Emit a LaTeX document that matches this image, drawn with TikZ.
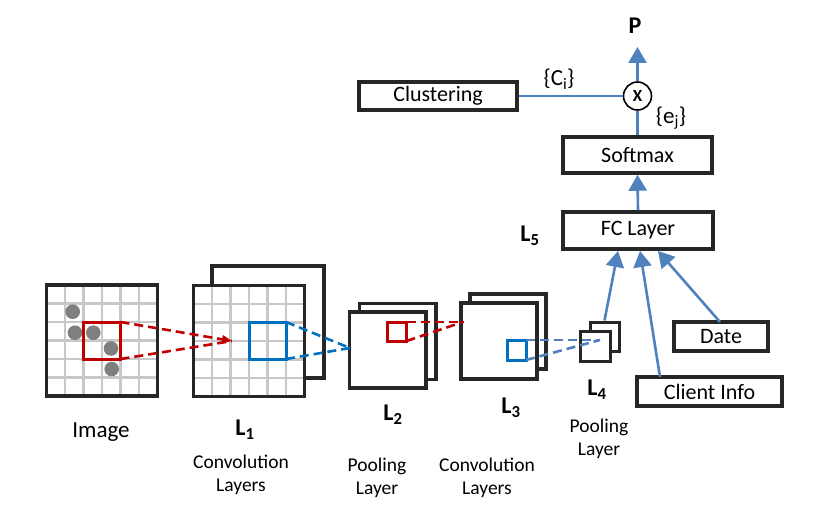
\documentclass[tikz,border=0pt]{standalone}
\usepackage{fontspec}
\setmainfont{Carlito}
\usetikzlibrary{arrows.meta}
\definecolor{cred}{HTML}{C00000}
\definecolor{cblue}{HTML}{0070C0}
\definecolor{conn}{HTML}{4F81BD}
\definecolor{dotgray}{HTML}{7F7F7F}
\definecolor{gridgray}{HTML}{C8C8C8}
\tikzset{
  blockbox/.style={draw=black!85,line width=3.5pt,fill=white,inner sep=0pt,font=\fontsize{22}{26}\selectfont},
  layersq/.style={draw=black!85,line width=3.5pt,fill=white,inner sep=0pt},
  thinsq/.style={draw=black!85,line width=3pt,fill=white,inner sep=0pt},
  gridline/.style={gridgray,line width=2.6pt},
  redsq/.style={draw=cred,line width=3pt,inner sep=0pt,outer sep=0pt},
  bluesq/.style={draw=cblue,line width=3pt,inner sep=0pt,outer sep=0pt},
  reddash/.style={cred,line width=2.6pt,dash pattern=on 9pt off 5pt},
  bluedash/.style={cblue,line width=2.6pt,dash pattern=on 9pt off 5pt},
  conndash/.style={conn,line width=2.6pt,dash pattern=on 9pt off 5pt},
  connline/.style={conn,line width=2.6pt},
  connarrow/.style={conn,line width=2.6pt,-{Triangle[width=18pt,length=16pt]}},
  lbl/.style={font=\fontsize{19.5}{23}\selectfont,align=center,inner sep=0pt},
  biglbl/.style={font=\fontsize{23}{26}\selectfont,inner sep=0pt},
  llbl/.style={font=\fontsize{24}{26}\selectfont\bfseries,inner sep=0pt},
}
\begin{document}
\begin{tikzpicture}[x=1pt,y=-1pt]
\useasboundingbox (0,0) rectangle (831,508);

% ---------- Image ----------
\node[layersq,minimum width=111pt,minimum height=111pt] (img) at (102,340.5) {};
\foreach \k in {1,...,5}{
  \draw[gridline] (46.5+18.5*\k,286.8) -- (46.5+18.5*\k,394.2);
  \draw[gridline] (48.3,285+18.5*\k) -- (155.7,285+18.5*\k);
}
\fill[dotgray] (72.7,311.7) circle (7.3);
\fill[dotgray] (75,332.7) circle (7.3);
\fill[dotgray] (93.3,332.7) circle (7.3);
\fill[dotgray] (111,348.5) circle (7.3);
\fill[dotgray] (111.7,369) circle (7.3);
\node[redsq,minimum width=37pt,minimum height=37pt] (rsq) at (102,340.5) {};

% ---------- L1 ----------
\node[layersq,minimum width=112pt,minimum height=112pt] (l1b) at (268,322) {};
\node[layersq,minimum width=111pt,minimum height=111pt] (l1f) at (249,341) {};
\foreach \k in {1,...,5}{
  \draw[gridline] (193.5+18.5*\k,287.3) -- (193.5+18.5*\k,394.7);
  \draw[gridline] (195.3,285.5+18.5*\k) -- (302.7,285.5+18.5*\k);
}
\node[bluesq,minimum width=37pt,minimum height=37pt] (bsq1) at (267.5,340.5) {};

\coordinate (rtip) at (232,341);
\draw[reddash,-{Triangle[width=8pt,length=10pt]}] (rsq.north east) -- (rtip);
\draw[reddash] (rsq.south east) -- (rtip);

% ---------- L2 ----------
\node[layersq,minimum width=76.5pt,minimum height=76pt] (l2b) at (397.75,341.5) {};
\node[layersq,minimum width=76.5pt,minimum height=76pt] (l2f) at (387.75,350) {};
\node[redsq,minimum width=19pt,minimum height=19pt] (rsq2) at (397,331.5) {};

\coordinate (btip1) at (350,348);
\draw[bluedash] (bsq1.north east) -- (btip1);
\draw[bluedash] (bsq1.south east) -- (btip1);

% ---------- L3 ----------
\node[layersq,minimum width=76pt,minimum height=75pt] (l3b) at (508,331.5) {};
\node[layersq,minimum width=76pt,minimum height=76pt] (l3f) at (499,341) {};
\node[bluesq,minimum width=19pt,minimum height=20pt] (bsq3) at (516.5,350) {};

\coordinate (rtip2) at (463,322);
\draw[reddash] (rsq2.north east) -- (rtip2);
\draw[reddash] (rsq2.south east) -- (rtip2);

% ---------- L4 ----------
\node[thinsq,minimum width=29pt,minimum height=29pt] (l4b) at (604.5,336.5) {};
\node[thinsq,minimum width=30pt,minimum height=30pt] (l4f) at (595,346) {};

\coordinate (btip2) at (600,340);
\draw[conndash] (bsq3.north east) -- (btip2);
\draw[conndash] (bsq3.south east) -- (btip2);

% ---------- right part ----------
\node[blockbox,minimum width=150pt,minimum height=37pt] (fc) at (638,230.5) {FC Layer};
\node[blockbox,minimum width=149pt,minimum height=36pt] (sm) at (637.5,155) {Softmax};
\node[blockbox,minimum width=158pt,minimum height=28pt] (clu) at (438,96) {Clustering};
\node[blockbox,minimum width=94pt,minimum height=29pt] (date) at (721,336.5) {Date};
\node[blockbox,minimum width=145pt,minimum height=29pt] (cli) at (709.5,391.5) {Client Info};
\node[circle,draw=black,line width=1.6pt,fill=white,minimum size=28pt,inner sep=0pt] (mul) at (637.5,96) {\fontsize{17}{17}\selectfont\bfseries X};

\coordinate (fcin1) at (618,251);
\coordinate (fcin2) at (640,251);
\coordinate (fcin3) at (658,251);
\coordinate (ptip) at (637.5,47);
\coordinate (clitop) at (660,377);
\coordinate (datetop) at (720,322);

\draw[connarrow] (l4b.north) -- (fcin1);
\draw[connarrow] (clitop) -- (fcin2);
\draw[connarrow] (datetop) -- (fcin3);
\draw[connarrow] (fc.north) -- (sm.south);
\draw[connline] (sm.north) -- (mul.south);
\draw[connline] (clu.east) -- (mul.west);
\draw[connarrow] (mul.north) -- (ptip);

% ---------- labels ----------
\node[llbl] (pl) at (635,26) {P};
\node[biglbl] (cil) at (559,79) {\{C\textsubscript{i}\}};
\node[biglbl] (ejl) at (671,118) {\{e\textsubscript{j}\}};
\node[llbl] (l5l) at (530,236) {L\textsubscript{5}};

\node[biglbl] (imgl) at (101,432) {Image};
\node[llbl] (l1l) at (245,430) {L\textsubscript{1}};
\node[lbl] (l1t) at (241,475) {Convolution\\Layers};
\node[llbl] (l2l) at (393,415) {L\textsubscript{2}};
\node[lbl] (l2t) at (377,477.5) {Pooling\\Layer};
\node[llbl] (l3l) at (511,408) {L\textsubscript{3}};
\node[lbl] (l3t) at (487,477.5) {Convolution\\Layers};
\node[llbl] (l4l) at (597,390) {L\textsubscript{4}};
\node[lbl] (l4t) at (599,438.5) {Pooling\\Layer};
\end{tikzpicture}
\end{document}
